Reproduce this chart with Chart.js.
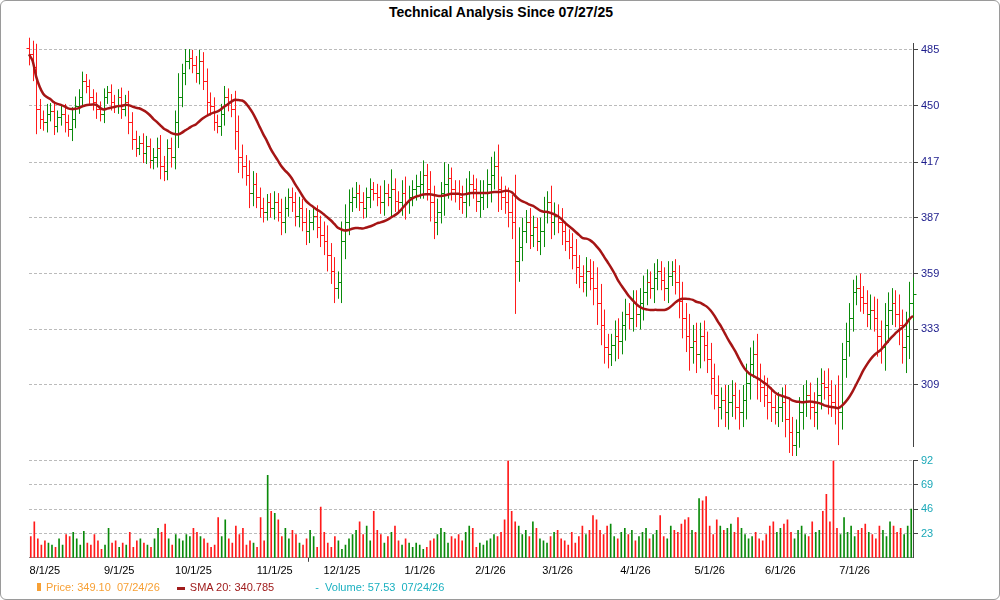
<!DOCTYPE html>
<html>
<head>
<meta charset="utf-8">
<script src="https://cdn.jsdelivr.net/npm/chart.js@4.4.0/dist/chart.umd.min.js"></script>
<style>
  body { margin: 0; background: #fff; font-family: Arial, "Liberation Sans", sans-serif; }
  #frame { position: absolute; left: 0; top: 0; width: 998px; height: 598px; border: 1px solid #9a9a9a; border-radius: 6px; overflow: hidden; }
  #title { position: absolute; top: 3px; width: 1000px; text-align: center; font-weight: bold; font-size: 14px; color: #000; }
  #priceWrap { position: absolute; left: 0; top: 0; width: 1000px; height: 455px; }
  #volWrap { position: absolute; left: 0; top: 450px; width: 1000px; height: 130px; }
  #legend { position: absolute; top: 580px; left: 36px; font-size: 11px; white-space: nowrap; }
  #legend span { margin-right: 14px; }
</style>
</head>
<body>
<div id="frame">
  <div id="title">Technical Analysis Since 07/27/25</div>
  <div id="priceWrap"><canvas id="price"></canvas></div>
  <div id="volWrap"><canvas id="vol"></canvas></div>
  <div id="legend">
    <span style="color:#f7a035"><b style="display:inline-block;width:4px;height:8px;background:#f7a035;margin-right:5px"></b>Price: 349.10 &nbsp;07/24/26</span>
    <span style="color:#a01c1c"><b style="display:inline-block;width:8px;height:3px;background:#a01c1c;margin-right:5px;vertical-align:middle"></b>SMA 20: 340.785</span>
    <span style="color:#1ab0c0;margin-left:24px">- &nbsp;Volume: 57.53 &nbsp;07/24/26</span>
  </div>
</div>
<script>
// daily closes, month by month
const closes = [
  482, 474, 448, 442,
  440, 445, 447, 438, 443, 445, 440, 436, 442, 450, 455, 465, 462, 455, 452, 448, 445, 455, 458, 452, 450,
  455, 448, 452, 440, 430, 425, 428, 422, 426, 418, 420, 425, 415, 412, 425, 420, 440, 455, 470, 478, 480,
  475, 470, 478, 465, 452, 450, 440, 438, 445, 455, 452, 448, 435, 420, 415, 410, 400, 405, 398, 392, 390, 395, 392,
  395, 390, 385, 392, 398, 395, 388, 392, 385, 380, 385, 388, 382, 378, 375, 368, 360, 352, 355,
  375, 385, 395, 398, 400, 395, 392, 398, 402, 400, 398, 395, 400, 398, 402, 396, 395, 400, 395, 398, 402, 404,
  405, 410, 402, 395, 385, 390, 400, 405, 408, 402, 400, 398, 395, 400, 405, 402, 396, 398, 400, 405,
  410, 415, 402, 398, 395, 390, 385, 365, 372, 380, 385, 378, 382, 375, 380, 390, 395, 385, 388,
  385, 380, 375, 372, 368, 362, 358, 355, 360, 357, 352, 345, 335, 325, 322, 326, 330, 328, 335, 340, 338, 345,
  340, 345, 350, 355, 352, 357, 360, 356, 352, 358, 360, 355, 346, 338, 330, 325, 328, 322, 330, 326, 320,
  312, 305, 300, 303, 298, 302, 305, 300, 298, 303, 310, 318, 322, 312, 308, 305, 302, 300, 298, 300,
  302, 295, 290, 285, 290, 298, 302, 305, 300, 298, 305, 310, 308, 305, 302, 300, 298, 320, 328, 338, 350,
  352, 348, 345, 340, 342, 338, 330, 325, 335, 342, 345, 340, 335, 325, 330, 345, 349.1
];
// daily high-low range
const spreads = [
  14, 18, 30, 12,
  10, 12, 9, 11, 8, 10, 12, 9, 14, 11, 10, 12, 9, 8, 10, 12, 9, 11, 8, 10, 9,
  10, 12, 9, 14, 12, 10, 8, 11, 12, 9, 10, 12, 15, 11, 10, 12, 14, 30, 12, 15, 11,
  10, 12, 14, 11, 16, 12, 10, 9, 12, 14, 11, 10, 22, 18, 14, 12, 16, 14, 12, 10, 11, 9, 10,
  12, 10, 14, 12, 9, 10, 11, 12, 10, 14, 12, 9, 11, 12, 14, 16, 12, 14, 10,
  20, 18, 14, 10, 12, 9, 11, 10, 12, 8, 10, 12, 14, 10, 22, 12, 10, 14, 18, 12, 10, 12,
  14, 16, 12, 20, 18, 14, 12, 24, 16, 12, 10, 14, 12, 16, 14, 10, 12, 18, 14, 16,
  20, 16, 24, 14, 12, 16, 18, 50, 20, 14, 12, 14, 12, 10, 14, 16, 12, 18, 14,
  12, 14, 10, 12, 14, 16, 12, 10, 14, 12, 16, 20, 18, 14, 12, 10, 14, 16, 12, 14, 10, 12,
  12, 14, 16, 12, 10, 14, 12, 10, 12, 14, 10, 12, 16, 18, 14, 20, 14, 16, 12, 14, 12,
  14, 12, 16, 10, 12, 14, 12, 10, 14, 12, 16, 14, 12, 18, 12, 10, 14, 12, 10, 12,
  12, 14, 16, 12, 10, 12, 14, 12, 10, 12, 14, 12, 10, 16, 12, 14, 26, 14, 16, 14, 12,
  12, 14, 10, 12, 14, 12, 18, 14, 20, 16, 14, 12, 18, 14, 22, 20, 16
];
// daily volume (millions)
const volumes = [
  20, 34, 18, 12,
  16, 14, 12, 10, 18, 12, 22, 20, 24, 18, 12, 25, 14, 12, 22, 16, 8, 12, 28, 14, 16,
  10, 14, 12, 24, 10, 16, 18, 14, 12, 10, 18, 28, 24, 32, 18, 12, 22, 18, 16, 22, 20,
  28, 24, 20, 18, 14, 10, 12, 38, 20, 36, 18, 14, 30, 22, 28, 12, 16, 14, 10, 38, 16, 78, 44,
  42, 36, 20, 28, 18, 26, 22, 14, 12, 18, 26, 20, 10, 48, 24, 14, 10, 20, 16, 8,
  12, 18, 22, 26, 34, 22, 30, 16, 44, 26, 22, 14, 20, 24, 30, 16, 12, 18, 14, 10, 14, 12,
  8, 10, 16, 18, 22, 28, 24, 14, 20, 18, 22, 16, 24, 30, 28, 10, 14, 12, 16, 18,
  22, 20, 24, 36, 92, 44, 34, 30, 22, 26, 20, 34, 28, 18, 16, 14, 20, 24, 26,
  18, 16, 12, 24, 14, 20, 30, 22, 26, 40, 36, 26, 22, 30, 32, 20, 18, 24, 28, 22, 26, 16,
  20, 24, 28, 18, 22, 26, 40, 20, 18, 30, 26, 24, 32, 36, 38, 26, 24, 56, 54, 58, 30,
  22, 36, 30, 26, 28, 32, 24, 38, 28, 22, 18, 20, 24, 18, 16, 22, 30, 34, 24, 28,
  32, 36, 24, 18, 26, 30, 22, 20, 34, 24, 26, 44, 60, 34, 92, 28, 22, 38, 24, 30, 20,
  26, 28, 32, 24, 22, 18, 30, 26, 20, 34, 30, 24, 28, 22, 30, 46, 57.53
];
const holidays = ["2025-09-01", "2025-11-27", "2025-12-25", "2026-01-01", "2026-01-19",
  "2026-02-16", "2026-04-03", "2026-05-25", "2026-06-19", "2026-07-03"];

// trading days
const dates = [];
for (let d = new Date(Date.UTC(2025, 6, 28)); dates.length < closes.length; d.setUTCDate(d.getUTCDate() + 1)) {
  const wd = d.getUTCDay();
  const iso = d.toISOString().slice(0, 10);
  if (wd === 0 || wd === 6 || holidays.includes(iso)) continue;
  dates.push(new Date(d));
}
const n = closes.length;
const labels = dates.map((d) => `${d.getUTCMonth() + 1}/1/${String(d.getUTCFullYear()).slice(2)}`);
const monthStart = dates.map((d, i) => i > 0 && d.getUTCMonth() !== dates[i - 1].getUTCMonth());

const opens = closes.map((c, i) => (i === 0 ? 486 : closes[i - 1]));
const highs = closes.map((c, i) => Math.max(c, opens[i]) + spreads[i] / 2);
const lows = closes.map((c, i) => Math.min(c, opens[i]) - spreads[i] / 2);
const up = closes.map((c, i) => c >= opens[i]);
const GREEN = "#0a8a0a";
const RED = "#ff1a1a";

const sma = closes.map((c, i) => {
  const part = closes.slice(Math.max(0, i - 19), i + 1);
  return part.reduce((a, b) => a + b, 0) / part.length;
});

const priceTicks = [309, 333, 359, 387, 417, 450, 485];
const volTicks = [23, 46, 69, 92];
const AXIS_W = 88;

const ohlcPlugin = {
  id: "ohlc",
  beforeDatasetsDraw(chart) {
    const { ctx, scales } = chart;
    ctx.save();
    ctx.lineWidth = 1;
    for (let i = 0; i < n; i++) {
      const x = Math.round(scales.x.getPixelForValue(i)) + 0.5;
      ctx.strokeStyle = up[i] ? GREEN : RED;
      ctx.beginPath();
      ctx.moveTo(x, scales.y.getPixelForValue(highs[i]));
      ctx.lineTo(x, scales.y.getPixelForValue(lows[i]));
      const yo = Math.round(scales.y.getPixelForValue(opens[i])) + 0.5;
      const yc = Math.round(scales.y.getPixelForValue(closes[i])) + 0.5;
      ctx.moveTo(x - 3, yo);
      ctx.lineTo(x, yo);
      ctx.moveTo(x, yc);
      ctx.lineTo(x + 3, yc);
      ctx.stroke();
    }
    ctx.restore();
  },
};

new Chart(document.getElementById("price"), {
  type: "line",
  data: {
    labels: labels,
    datasets: [{
      data: sma,
      borderColor: "#a51515",
      borderWidth: 2.5,
      pointRadius: 0,
      tension: 0.3,
    }],
  },
  options: {
    responsive: true,
    maintainAspectRatio: false,
    animation: false,
    layout: { padding: { left: 28, top: 42, bottom: 0, right: 0 } },
    plugins: { legend: { display: false }, tooltip: { enabled: false } },
    scales: {
      x: { grid: { display: false }, ticks: { display: false }, border: { display: false } },
      y: {
        type: "logarithmic",
        position: "right",
        min: 284.5,
        max: 489.5,
        afterBuildTicks: (axis) => { axis.ticks = priceTicks.map((v) => ({ value: v })); },
        afterFit: (axis) => { axis.width = AXIS_W; },
        ticks: { color: "#1c1c8c", font: { size: 11 }, callback: (v) => v },
        grid: { color: "#bbb", tickLength: 5, tickColor: "#444" },
        border: { color: "#444", dash: [3, 2] },
      },
    },
  },
  plugins: [ohlcPlugin],
});

new Chart(document.getElementById("vol"), {
  type: "bar",
  data: {
    labels: labels,
    datasets: [{
      data: volumes,
      backgroundColor: up.map((u) => (u ? GREEN : RED)),
      barThickness: 1,
    }],
  },
  options: {
    responsive: true,
    maintainAspectRatio: false,
    animation: false,
    layout: { padding: { left: 28, top: 0, right: 0 } },
    plugins: { legend: { display: false }, tooltip: { enabled: false } },
    scales: {
      x: {
        ticks: {
          autoSkip: false,
          maxRotation: 0,
          color: "#000",
          font: { size: 11 },
          callback: (v, i) => (monthStart[i] ? labels[i] : null),
        },
        grid: { display: true, drawOnChartArea: false, tickLength: 4, color: (c) => (monthStart[c.index] ? "#444" : "transparent") },
        border: { color: "#888" },
      },
      y: {
        position: "right",
        min: 0,
        max: 92,
        afterBuildTicks: (axis) => { axis.ticks = volTicks.map((v) => ({ value: v })); },
        afterFit: (axis) => { axis.width = AXIS_W; },
        ticks: { color: "#1aa8b8", font: { size: 11 } },
        grid: { color: "#bbb", tickLength: 5, tickColor: "#444" },
        border: { color: "#444", dash: [3, 2] },
      },
    },
  },
});
</script>
</body>
</html>
